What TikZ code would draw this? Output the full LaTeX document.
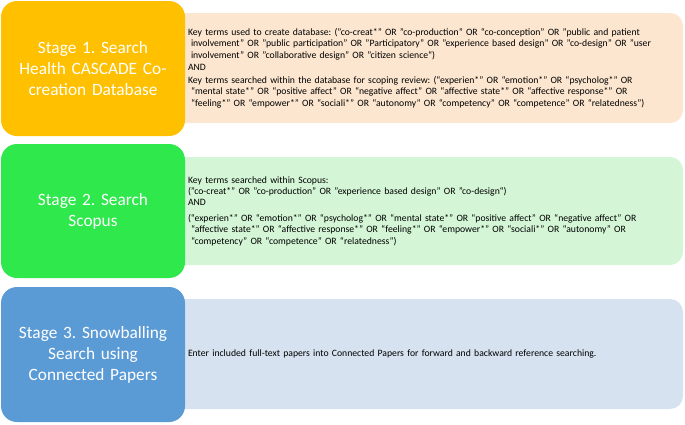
\documentclass[tikz,border=0pt]{standalone}
\usepackage{fontspec}
\setmainfont{Carlito}
\usepackage{tikz}
\usetikzlibrary{positioning}
\frenchspacing

\definecolor{stageorange}{HTML}{FFC000}
\definecolor{stagegreen}{HTML}{2EE84C}
\definecolor{stageblue}{HTML}{5B9BD5}
\definecolor{detailorange}{HTML}{FCE6CF}
\definecolor{detailgreen}{HTML}{D4F6D6}
\definecolor{detailblue}{HTML}{D7E2F1}

\begin{document}
\begin{tikzpicture}[x=1pt,y=-1pt,
  stagebox/.style={rounded corners=16pt,minimum width=184pt,minimum height=135pt,text width=176pt,
    align=center,text=white,font=\fontsize{17.3}{21}\selectfont,inner sep=0pt},
  detailbox/.style={rounded corners=13pt,minimum width=513pt,minimum height=110pt,text width=477pt,
    inner xsep=18pt,inner ysep=0pt,align=left,font=\fontsize{9.7}{11.4}\selectfont}]
\useasboundingbox (0,0) rectangle (685,424);
% detail boxes first, the stage boxes lie over their left ends
\node[detailbox,fill=detailorange] (detail1) at (426.5,68) {Key terms used to create database: ("co-creat*" OR "co-production" OR “co-conception” OR "public and patient\\
\hspace*{3pt}involvement" OR "public participation" OR "Participatory" OR "experience based design" OR "co-design" OR "user\\
\hspace*{3pt}involvement" OR "collaborative design" OR "citizen science“)\\[1pt]
AND\\[1.5pt]
Key terms searched within the database for scoping review: (“experien*” OR “emotion*” OR “psycholog*” OR\\
\hspace*{3pt}“mental state*” OR “positive affect” OR “negative affect” OR “affective state*” OR “affective response*” OR\\
\hspace*{3pt}“feeling*” OR “empower*” OR “sociali*” OR “autonomy” OR “competency” OR “competence” OR “relatedness”)};
\node[detailbox,fill=detailgreen,minimum height=108pt] (detail2) at (426.5,211) {Key terms searched within Scopus:\\
("co-creat*" OR "co-production" OR "experience based design" OR "co-design“)\\
AND\\[4pt]
(“experien*” OR “emotion*” OR “psycholog*” OR “mental state*” OR “positive affect” OR “negative affect” OR\\
\hspace*{3pt}“affective state*” OR “affective response*” OR “feeling*” OR “empower*” OR “sociali*” OR “autonomy” OR\\
\hspace*{3pt}“competency” OR “competence” OR “relatedness”)};
\node[detailbox,fill=detailblue] (detail3) at (426.5,354) {Enter included full-text papers into Connected Papers for forward and backward reference searching.};
% stage boxes
\node[stagebox,fill=stageorange] (stage1) at (93,68.5) {Stage 1. Search\\Health CASCADE Co-\\creation Database};
\node[stagebox,fill=stagegreen,minimum height=134pt] (stage2) at (93,211) {Stage 2. Search\\Scopus};
\node[stagebox,fill=stageblue] (stage3) at (93,354.5) {Stage 3. Snowballing\\Search using\\Connected Papers};
\end{tikzpicture}
\end{document}
